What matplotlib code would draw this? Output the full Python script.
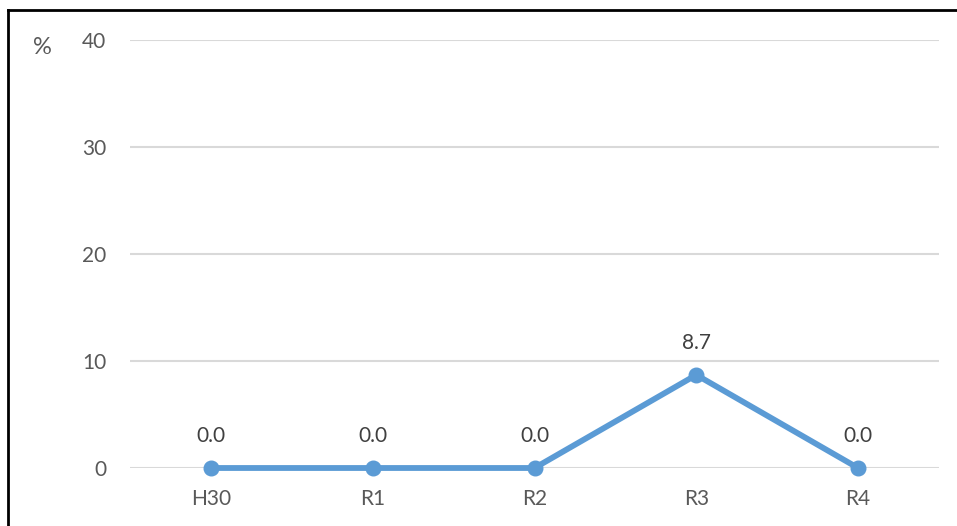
import matplotlib.pyplot as plt
from matplotlib.lines import Line2D

categories = ["H30", "R1", "R2", "R3", "R4"]
values = [0.0, 0.0, 0.0, 8.7, 0.0]
y_ticks = [0, 10, 20, 30, 40]

plt.rcParams['font.family'] = ['Lato', 'DejaVu Sans']

W, H = 957, 526
fig = plt.figure(figsize=(W / 100, H / 100), dpi=100)
ax = fig.add_axes([130 / W, 1 - 468 / H, (939 - 130) / W, (468 - 40) / H])

x = range(len(categories))
ax.plot(x, values, color="#5B9BD5", linewidth=4.2, marker="o", markersize=10.5,
        solid_capstyle="round", zorder=3, clip_on=False)
for xi, v in zip(x, values):
    ax.annotate(f"{v:.1f}", (xi, v), xytext=(0, 23), textcoords="offset points",
                ha="center", va="center", fontsize=15, color="#404040")

ax.set_xlim(-0.5, len(categories) - 0.5)
ax.set_ylim(0, 40)
ax.set_yticks(y_ticks)
ax.set_xticks(list(x))
ax.set_xticklabels(categories)
ax.grid(axis="y", color="#D9D9D9", linewidth=1.5)
ax.set_axisbelow(True)
for s in ax.spines.values():
    s.set_visible(False)
ax.tick_params(axis="both", length=0, labelsize=15, labelcolor="#595959")
ax.tick_params(axis="x", pad=15)
ax.tick_params(axis="y", pad=17)

fig.text(42 / W, 1 - 48 / H, "%", ha="center", va="center", fontsize=17,
         color="#595959")

# outer frame (top and left edges visible)
fig.add_artist(Line2D([8 / W, 8 / W], [0, 1 - 10 / H], color="black", linewidth=2,
                      transform=fig.transFigure))
fig.add_artist(Line2D([8 / W, 1], [1 - 10 / H, 1 - 10 / H], color="black", linewidth=2,
                      transform=fig.transFigure))

fig.savefig("out.png", dpi=100)
